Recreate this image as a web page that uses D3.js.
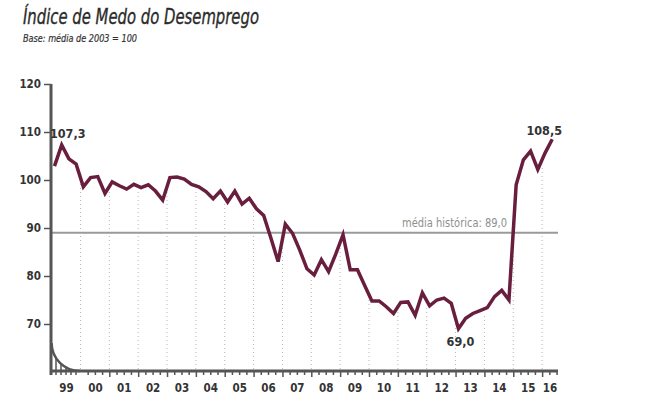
<!DOCTYPE html>
<html>
<head>
<meta charset="utf-8">
<script src="https://cdn.jsdelivr.net/npm/d3@7/dist/d3.min.js"></script>
<style>
  html, body { margin: 0; padding: 0; background: #fff; }
  svg { display: block; }
  text { font-family: "DejaVu Sans Condensed", "Liberation Sans Narrow", sans-serif; }
</style>
</head>
<body>
<svg id="chart" width="652" height="408"></svg>
<script>
// ---- data ----
const title = "Índice de Medo do Desemprego";
const subtitle = "Base: média de 2003 = 100";
const startYear = 1999;           // first quarter: 1999 T1, quarterly series
const values = [
  102.9, 107.3, 104.4, 103.3,   // 1999
  98.6, 100.5, 100.7, 97.2,     // 2000
  99.6, 98.8, 98.1, 99.1,       // 2001
  98.4, 99.0, 97.7, 95.8,       // 2002
  100.5, 100.6, 100.2, 99.1,    // 2003
  98.6, 97.6, 96.1, 97.7,       // 2004
  95.4, 97.7, 95.0, 96.2,       // 2005
  94.0, 92.6, 87.9, 83.0,       // 2006
  90.8, 88.9, 85.4, 81.5,       // 2007
  80.2, 83.4, 80.9, 84.6,       // 2008
  88.6, 81.3, 81.3, 78.0,       // 2009
  74.8, 74.8, 73.6, 72.2,       // 2010
  74.5, 74.6, 71.8, 76.5,       // 2011
  73.8, 75.0, 75.4, 74.3,       // 2012
  69.0, 71.2, 72.2, 72.8,       // 2013
  73.4, 75.7, 77.0, 75.0,       // 2014
  99.0, 104.2, 106.0, 102.2,    // 2015
  105.6, 108.5                  // 2016
];
const yearLabels = ["99","00","01","02","03","04","05","06","07","08","09","10","11","12","13","14","15","16"];
const yTicks = [70, 80, 90, 100, 110, 120];
const historicalMean = 89.0;
const meanLabel = "média histórica: 89,0";
const annotations = [
  { index: 1, text: "107,3", dx: 6, dy: -7 },
  { index: 56, text: "69,0", dx: 2, dy: 17 },
  { index: 69, text: "108,5", dx: -8, dy: -4 }
];

// ---- drawing ----
const svg = d3.select("#chart");
const plotLeft = 51.6, plotRight = 558, plotTop = 84, baseY = 371;
const lineColor = "#6a1e3e";
const axisColor = "#555";
const textColor = "#333";

const endT = 2016.55;
const x = d3.scaleLinear().domain([startYear, endT]).range([plotLeft, plotRight]);
const y = d3.scaleLinear().domain([70, 120]).range([324, 84]);

const pointOffset = 0.1;
const data = values.map((v, i) => ({ t: startYear + i / 4 + pointOffset, v, i }));

// title
svg.append("text").attr("x", 23).attr("y", 24)
  .attr("font-size", 21).attr("font-style", "italic").attr("fill", "#2b2b2b")
  .attr("stroke", "#2b2b2b").attr("stroke-width", 0.35)
  .attr("textLength", 236).attr("lengthAdjust", "spacingAndGlyphs")
  .text(title);
svg.append("text").attr("x", 23).attr("y", 42)
  .attr("font-size", 10).attr("font-style", "italic").attr("fill", "#333")
  .attr("stroke", "#333").attr("stroke-width", 0.2)
  .attr("textLength", 114).attr("lengthAdjust", "spacingAndGlyphs")
  .text(subtitle);

// dotted year lines up to the series
const interp = t => {
  for (let k = 0; k < data.length - 1; k++) {
    if (t >= data[k].t && t <= data[k + 1].t) {
      const f = (t - data[k].t) / (data[k + 1].t - data[k].t);
      return data[k].v + f * (data[k + 1].v - data[k].v);
    }
  }
  return data[data.length - 1].v;
};
const boundaries = d3.range(startYear + 1, 2017);
svg.append("g").selectAll("line").data(boundaries).join("line")
  .attr("x1", d => x(d)).attr("x2", d => x(d))
  .attr("y1", baseY - 2).attr("y2", d => y(interp(d)) + 5)
  .attr("stroke", "#b5b5b5").attr("stroke-width", 1).attr("stroke-dasharray", "1,3");

// historical mean line
svg.append("line").attr("x1", plotLeft).attr("x2", plotRight)
  .attr("y1", y(historicalMean)).attr("y2", y(historicalMean))
  .attr("stroke", "#9a9a9a").attr("stroke-width", 2);
svg.append("text").attr("x", 507).attr("y", y(historicalMean) - 6)
  .attr("text-anchor", "end").attr("font-size", 13).attr("fill", "#8f8f8f")
  .attr("textLength", 105).attr("lengthAdjust", "spacingAndGlyphs")
  .text(meanLabel);

// y axis
const yAxis = d3.axisLeft(y).tickValues(yTicks).tickSize(7).tickPadding(3).tickFormat(d3.format("d"));
const gy = svg.append("g").attr("transform", `translate(${plotLeft - 0.6},0)`).call(yAxis);
gy.select(".domain").remove();
gy.selectAll(".tick line").attr("stroke", axisColor).attr("stroke-width", 1.5);
gy.selectAll(".tick text").attr("font-size", 11.5).attr("font-weight", "bold").attr("fill", textColor)
  .attr("font-family", "'DejaVu Sans Condensed', sans-serif");
svg.append("line").attr("x1", plotLeft - 0.6).attr("x2", plotLeft - 0.6).attr("y1", plotTop).attr("y2", baseY + 4)
  .attr("stroke", axisColor).attr("stroke-width", 3);

// x axis: quarter ticks
const quarterTicks = d3.range(0, (endT - startYear) * 4).map(k => startYear + k / 4).filter(t => t <= endT && t > startYear + 1.0);
const xAxis = d3.axisBottom(x).tickValues(quarterTicks).tickSize(4).tickFormat("");
const gx = svg.append("g").attr("transform", `translate(0,${baseY})`).call(xAxis);
gx.select(".domain").remove();
gx.selectAll(".tick line").attr("stroke", axisColor).attr("stroke-width", 1.5)
  .attr("y2", d => (Math.abs(d - Math.round(d)) < 1e-6 ? 6 : 4));
svg.append("line").attr("x1", plotLeft).attr("x2", plotRight).attr("y1", baseY).attr("y2", baseY)
  .attr("stroke", axisColor).attr("stroke-width", 3);

// axis break curve with hatching
const cx = 80, cy = 343, rx = cx - plotLeft, ry = baseY - cy;
svg.append("path")
  .attr("d", `M${plotLeft},${cy} A${rx},${ry} 0 0 0 ${cx},${baseY}`)
  .attr("fill", "none").attr("stroke", axisColor).attr("stroke-width", 2.5);
const hatchX = [56, 61, 66, 71, 76];
svg.append("g").selectAll("line").data(hatchX).join("line")
  .attr("x1", d => d).attr("x2", d => d)
  .attr("y1", baseY + 4)
  .attr("y2", d => cy + ry * Math.sqrt(1 - Math.pow((cx - d) / rx, 2)))
  .attr("stroke", axisColor).attr("stroke-width", 1.5);

// year labels
const labelAxis = d3.axisBottom(x)
  .tickValues(yearLabels.map((_, k) => startYear + k + 0.5))
  .tickSize(0).tickPadding(0)
  .tickFormat((d, k) => yearLabels[k]);
const gl = svg.append("g").attr("transform", `translate(0,${baseY})`).call(labelAxis);
gl.select(".domain").remove();
gl.selectAll(".tick text").attr("y", 21).attr("dy", 0)
  .attr("font-size", 11.5).attr("font-weight", "bold").attr("fill", textColor)
  .attr("font-family", "'DejaVu Sans Condensed', sans-serif");
gl.selectAll(".tick").filter((d, k) => k === yearLabels.length - 1)
  .attr("transform", `translate(${x((2016 + endT) / 2)},0)`);

// series line
const line = d3.line().x(d => x(d.t)).y(d => y(d.v));
svg.append("path").datum(data).attr("d", line)
  .attr("fill", "none").attr("stroke", lineColor).attr("stroke-width", 3.5)
  .attr("stroke-linejoin", "miter").attr("stroke-linecap", "butt");

// annotations
svg.append("g").selectAll("text").data(annotations).join("text")
  .attr("x", d => x(data[d.index].t) + d.dx)
  .attr("y", d => y(data[d.index].v) + d.dy)
  .attr("text-anchor", "middle").attr("font-size", 12.5).attr("font-weight", "bold").attr("fill", textColor)
  .text(d => d.text);
</script>
</body>
</html>
